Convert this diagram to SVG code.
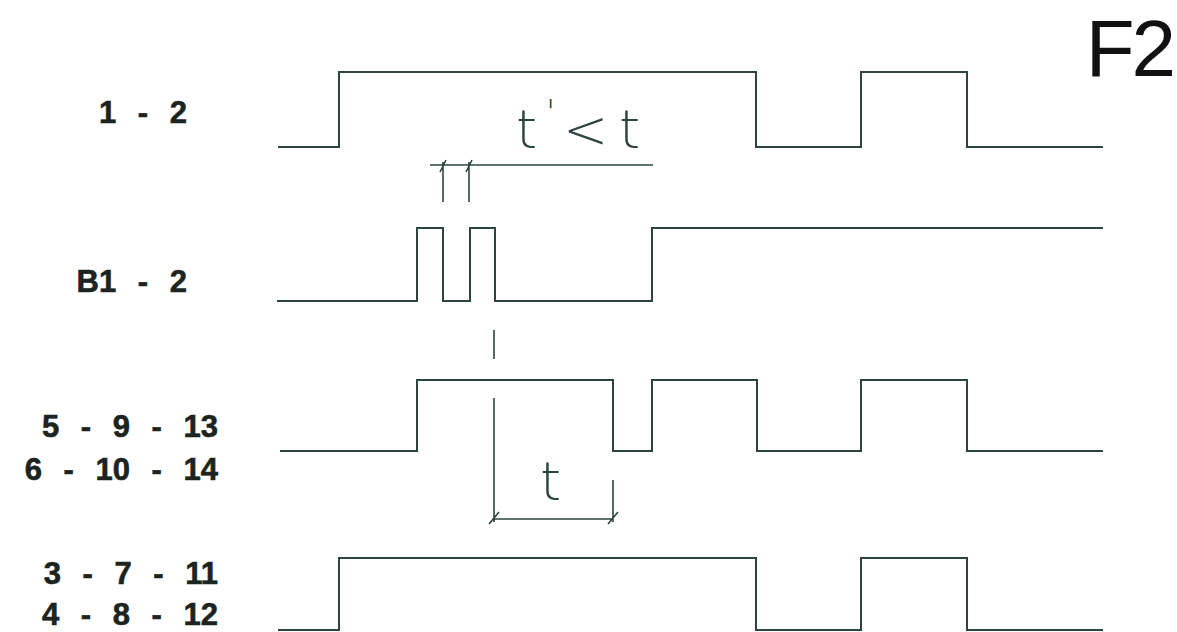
<svg xmlns="http://www.w3.org/2000/svg" width="1177" height="632" viewBox="0 0 1177 632">
<style>
.sig{fill:none;stroke:#2c4540;stroke-width:2;stroke-linejoin:miter}
.dim{fill:none;stroke:#2c4540;stroke-width:1.6}
.lbl{font-family:"Liberation Sans",Arial,sans-serif;font-weight:bold;font-size:31px;fill:#1c2420;text-anchor:end;word-spacing:13px;stroke:#1c2420;stroke-width:0.6}
.hand{font-family:"DejaVu Sans","Liberation Sans",sans-serif;font-weight:200;fill:#2c4540}
</style>
<rect width="1177" height="632" fill="#ffffff"/>
<g id="title"><text x="1173" y="76" font-family="'Liberation Sans',Arial,sans-serif" font-size="80" fill="#111" text-anchor="end" letter-spacing="-3">F2</text></g>
<g id="label-1-2"><text class="lbl" x="187" y="123">1 - 2</text></g>
<g id="label-B1-2"><text class="lbl" x="187" y="292">B1 - 2</text></g>
<g id="label-5-9-13"><text class="lbl" x="218" y="437">5 - 9 - 13</text><text class="lbl" x="218" y="480">6 - 10 - 14</text></g>
<g id="label-3-7-11"><text class="lbl" x="218" y="584">3 - 7 - 11</text><text class="lbl" x="218" y="625">4 - 8 - 12</text></g>
<g id="connectors">
<path id="sig-1-2" class="sig" d="M278 147H339V72H756V147H861V72H967V147H1103"/>
<path id="sig-B1-2" class="sig" d="M277 301H417V228H443V301H470V228H495V301H652V228H1103"/>
<path id="sig-5-9-13" class="sig" d="M280 451H417V380H613V451H652V380H757V451H861V380H967V451H1103"/>
<path id="sig-3-7-11" class="sig" d="M278 630H339V558H756V630H861V558H967V630H1103"/>
<g id="dim-tprime">
<path class="dim" d="M430 165H653M443 162V202M469 162V202M440 172L446 160M466 172L472 160"/>
<text class="hand" x="516" y="148" font-size="54">t</text>
<text class="hand" x="546" y="124" font-size="34">'</text>
<text class="hand" x="563" y="148" font-size="54">&lt;</text>
<text class="hand" x="619" y="148" font-size="54">t</text>
</g>
<g id="dim-t">
<path class="dim" d="M494 330V359M494 398V522M613 480V522M494 519H613M489 524L499 512M608 524L618 512"/>
<text class="hand" x="540" y="500" font-size="54">t</text>
</g>
</g>
</svg>
